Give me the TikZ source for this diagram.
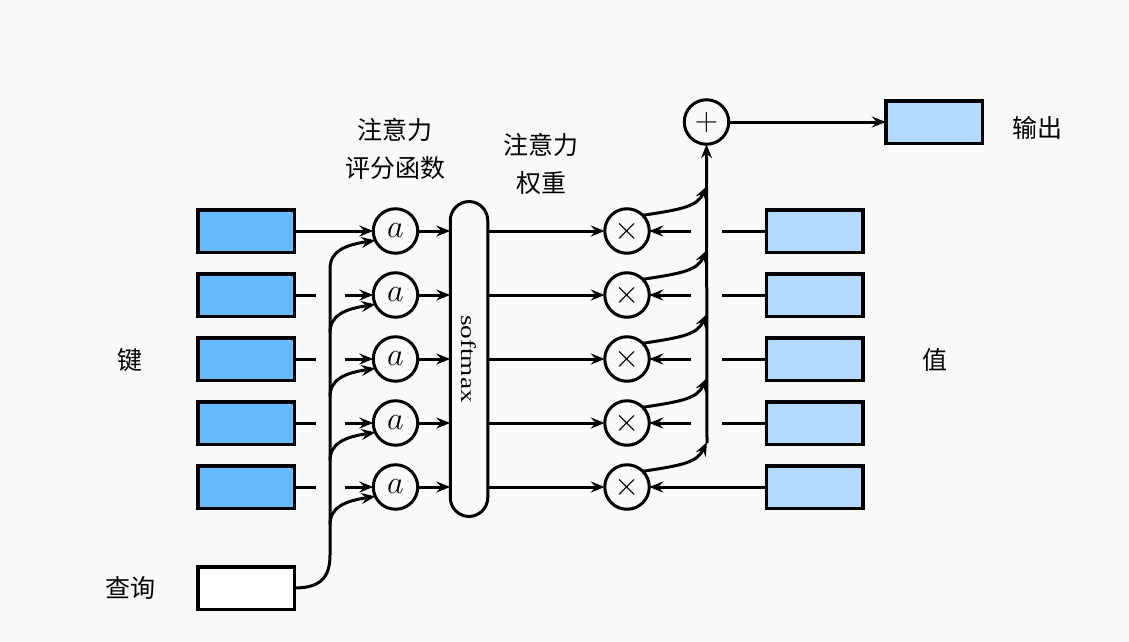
\documentclass[tikz,border=0pt]{standalone}
\usepackage{fontspec}
\usepackage{graphicx}
\newfontfamily\cjk{Noto Sans CJK SC}
\newfontfamily\tms{Liberation Serif}
\usetikzlibrary{arrows.meta}
\definecolor{keyblue}{HTML}{66BBFF}
\definecolor{valblue}{HTML}{B3D9FF}
\definecolor{bg}{HTML}{FAFAFA}
\newcommand{\bigsym}[1]{\scalebox{1.3}{$#1$}}
\begin{document}
\begin{tikzpicture}[x=1pt,y=-1pt,
  lw/.style={line width=3pt},
  arr/.style={line width=3pt,-{Stealth[length=14pt,width=11pt,inset=5pt]}},
  boxbase/.style={draw,line width=3.5pt,minimum width=96.5pt,minimum height=42.5pt,inner sep=0pt,outer sep=0pt},
  keybox/.style={boxbase,fill=keyblue},
  valbox/.style={boxbase,fill=valblue},
  qbox/.style={boxbase,fill=white},
  circ/.style={circle,draw,line width=3pt,minimum size=44.5pt,inner sep=0pt,outer sep=0pt,fill=bg},
  lab/.style={font=\cjk\fontsize{25}{38}\selectfont,align=center,inner sep=0pt},
  sym/.style={font=\fontsize{24}{24}\selectfont}
]
\fill[bg] (0,0) rectangle (1129,642);
\useasboundingbox (0,0) rectangle (1129,642);

% softmax
\node[draw,line width=3pt,rounded corners=19pt,minimum width=37.5pt,minimum height=315pt,inner sep=0pt,outer sep=0pt,fill=bg] (sm) at (469,359) {};
\node[rotate=-90,inner sep=0pt] (smt) at (469,359) {\tms\fontsize{21}{21}\selectfont\scalebox{1.3}[1]{softmax}};

\foreach \i/\y in {1/231,2/295,3/359,4/423,5/487}{
  \node[keybox] (k\i) at (246,\y) {};
  \node[circ,sym] (a\i) at (395.5,\y) {\bigsym{a}};
  \node[circ,sym] (m\i) at (627,\y) {\bigsym{\times}};
  \node[valbox] (v\i) at (814.5,\y) {};
  \draw[arr] (a\i.east) -- (a\i.east -| sm.west);
  \draw[arr] (sm.east |- m\i.west) -- (m\i.west);
}

% query
\node[qbox] (q) at (246,588) {};

% key -> a
\draw[arr] (k1.east) -- (a1.west);
\foreach \i/\y in {2/295,3/359,4/423,5/487}{
  \coordinate (ks\i) at (316,\y);
  \coordinate (ka\i) at (345,\y);
  \draw[lw] (k\i.east) -- (ks\i);
  \draw[arr] (ka\i) -- (a\i.west);
}

% query -> a
\coordinate (qb) at (330,555);
\coordinate (qt) at (330,269);
\draw[arr] (q.east) .. controls (320,588) and (330,578) .. (qb) -- (qt) .. controls (330,251) and (345,245) .. (a1.205);
\foreach \i/\y in {2/295,3/359,4/423,5/487}{
  \coordinate (qs\i) at (330,\y+38);
  \draw[arr] (qs\i) .. controls (330,\y+20) and (345,\y+14) .. (a\i.205);
}

% values -> times
\foreach \i/\y in {1/231,2/295,3/359,4/423}{
  \coordinate (vs\i) at (722,\y);
  \coordinate (va\i) at (691,\y);
  \draw[lw] (v\i.west) -- (vs\i);
  \draw[arr] (va\i) -- (m\i.east);
}
\draw[arr] (v5.west) -- (m5.east);

% plus and output
\node[circ,sym] (p) at (706.5,122) {\bigsym{+}};
\node[valbox] (o) at (934,122) {};
\coordinate (vb) at (707,443);
\draw[arr] (vb) -- (p.south);
\foreach \i/\y in {1/231,2/295,3/359,4/423,5/487}{
  \coordinate (mt\i) at (707,\y-45);
  \draw[arr] (m\i.45) .. controls (685,\y-22) and (697,\y-25) .. (mt\i);
}
\draw[arr] (p.east) -- (o.west);

% labels
\node[lab] (l1) at (395,149) {注意力\\评分函数};
\node[lab] (l2) at (541,164) {注意力\\权重};
\node[lab] (l3) at (130,360) {键};
\node[lab] (l4) at (935,360) {值};
\node[lab] (l5) at (130,588) {查询};
\node[lab] (l6) at (1037,128) {输出};
\end{tikzpicture}
\end{document}
